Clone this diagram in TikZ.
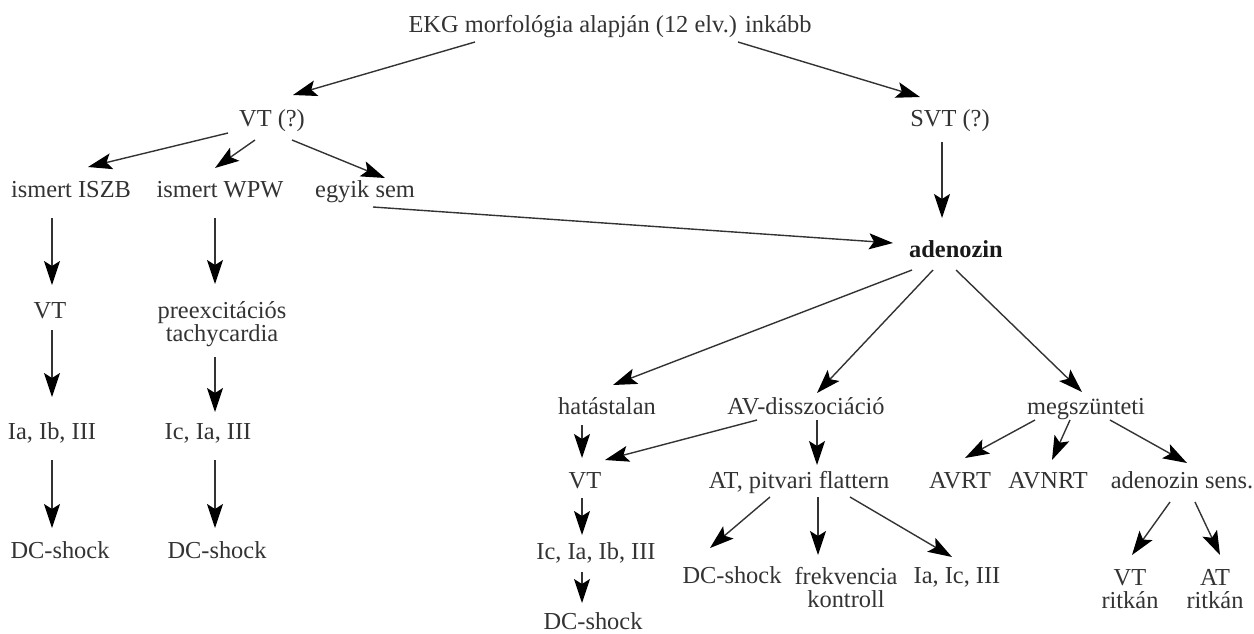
\documentclass[tikz,border=0pt]{standalone}
\usepackage{fontspec}
\setmainfont{Liberation Serif}
\usepackage{tikz}
\usetikzlibrary{arrows.meta,calc}

\definecolor{ink}{HTML}{333333}
\tikzstyle{txt} = [inner sep=0pt, text=ink, font=\fontsize{12.2}{11.5}\selectfont, text height=8.5pt, text depth=2.5pt]
\tikzstyle{twoline} = [inner sep=0pt, text=ink, font=\fontsize{12.2}{11.5}\selectfont, align=center]
\tikzstyle{arrow} = [draw=ink, line width=0.7pt, -{Stealth[length=12pt,width=8pt,inset=2.5pt,color=black]}]

\begin{document}
\begin{tikzpicture}[x=0.5pt,y=-0.5pt]
    \useasboundingbox (0,0) rectangle (1254,633);

    % top level
    \node[txt] (ekg) at (610,26) {EKG morfológia alapján (12 elv.) inkább};
    \node[txt] (vtq) at (272,120) {VT (?)};
    \node[txt] (svtq) at (950,120) {SVT (?)};

    % left branch
    \node[txt] (iszb) at (71,191) {ismert ISZB};
    \node[txt] (wpw) at (220,191) {ismert WPW};
    \node[txt] (egyik) at (365,191) {egyik sem};
    \node[txt] (vtA) at (50,312) {VT};
    \node[twoline] (preex) at (222,324) {preexcitációs\\tachycardia};
    \node[txt] (iaA) at (52,433) {Ia, Ib, III};
    \node[txt] (icA) at (208,433) {Ic, Ia, III};
    \node[txt] (dcA) at (60,552) {DC-shock};
    \node[txt] (dcB) at (217,552) {DC-shock};

    % adenozin and below
    \node[txt, font=\fontsize{12.2}{11.5}\selectfont\bfseries, text=black!90] (aden) at (956,251) {adenozin};
    \node[txt] (hat) at (607,408) {hatástalan};
    \node[txt] (avd) at (806,408) {AV-disszociáció};
    \node[txt] (megsz) at (1086,408) {megszünteti};
    \node[txt] (vtB) at (585,482) {VT};
    \node[txt] (atfl) at (799,482) {AT, pitvari flattern};
    \node[txt] (avrt) at (960,482) {AVRT};
    \node[txt] (avnrt) at (1048,482) {AVNRT};
    \node[txt] (sens) at (1182,482) {adenozin sens.};
    \node[txt] (icB) at (596,553) {Ic, Ia, Ib, III};
    \node[txt] (dcC) at (593,623) {DC-shock};
    \node[txt] (dcD) at (732,577) {DC-shock};
    \node[twoline] (frek) at (846,588) {frekvencia\\kontroll};
    \node[txt] (iaB) at (957,577) {Ia, Ic, III};
    \node[twoline] (vtr) at (1130,589) {VT\\ritkán};
    \node[twoline] (atr) at (1215,589) {AT\\ritkán};

    % arrows (offsets in px from node centres)
    \draw[arrow] ($(ekg)+(-135,16)$) -- ($(vtq)+(21,-25)$);
    \draw[arrow] ($(ekg)+(128,16)$) -- ($(svtq)+(-30,-23)$);
    \draw[arrow] ($(vtq)+(-44,13)$) -- ($(iszb)+(17,-24)$);
    \draw[arrow] ($(vtq)+(-17,20)$) -- ($(wpw)+(-5,-23)$);
    \draw[arrow] ($(vtq)+(20,20)$) -- ($(egyik)+(20,-13)$);
    \draw[arrow] ($(svtq)+(-8,22)$) -- ($(aden)+(-14,-33)$);
    \draw[arrow] ($(egyik)+(8,16)$) -- ($(aden)+(-63,-8)$);

    \draw[arrow] ($(iszb)+(-19,27)$) -- ($(vtA)+(2,-27)$);
    \draw[arrow] ($(vtA)+(2,18)$) -- ($(iaA)+(0,-36)$);
    \draw[arrow] ($(iaA)+(0,27)$) -- ($(dcA)+(-8,-24)$);
    \draw[arrow] ($(wpw)+(-5,27)$) -- ($(preex)+(-7,-40)$);
    \draw[arrow] ($(preex)+(-7,33)$) -- ($(icA)+(7,-21)$);
    \draw[arrow] ($(icA)+(7,27)$) -- ($(dcB)+(-2,-24)$);

    \draw[arrow] ($(aden)+(-44,19)$) -- ($(hat)+(6,-23)$);
    \draw[arrow] ($(aden)+(-23,19)$) -- ($(avd)+(11,-15)$);
    \draw[arrow] ($(aden)+(0,19)$) -- ($(megsz)+(-4,-16)$);
    \draw[arrow] ($(hat)+(-25,17)$) -- ($(vtB)+(-3,-24)$);
    \draw[arrow] ($(avd)+(-49,12)$) -- ($(vtB)+(20,-22)$);
    \draw[arrow] ($(avd)+(11,12)$) -- ($(atfl)+(18,-17)$);
    \draw[arrow] ($(vtB)+(-3,16)$) -- ($(icB)+(-14,-18)$);
    \draw[arrow] ($(icB)+(-14,19)$) -- ($(dcC)+(-11,-20)$);
    \draw[arrow] ($(atfl)+(-29,15)$) -- ($(dcD)+(-22,-29)$);
    \draw[arrow] ($(atfl)+(19,15)$) -- ($(frek)+(-28,-33)$);
    \draw[arrow] ($(atfl)+(51,15)$) -- ($(iaB)+(-5,-20)$);
    \draw[arrow] ($(megsz)+(-51,12)$) -- ($(avrt)+(5,-24)$);
    \draw[arrow] ($(megsz)+(-16,12)$) -- ($(avnrt)+(4,-22)$);
    \draw[arrow] ($(megsz)+(24,12)$) -- ($(sens)+(5,-19)$);
    \draw[arrow] ($(sens)+(-12,20)$) -- ($(vtr)+(2,-34)$);
    \draw[arrow] ($(sens)+(13,20)$) -- ($(atr)+(5,-34)$);
\end{tikzpicture}
\end{document}
